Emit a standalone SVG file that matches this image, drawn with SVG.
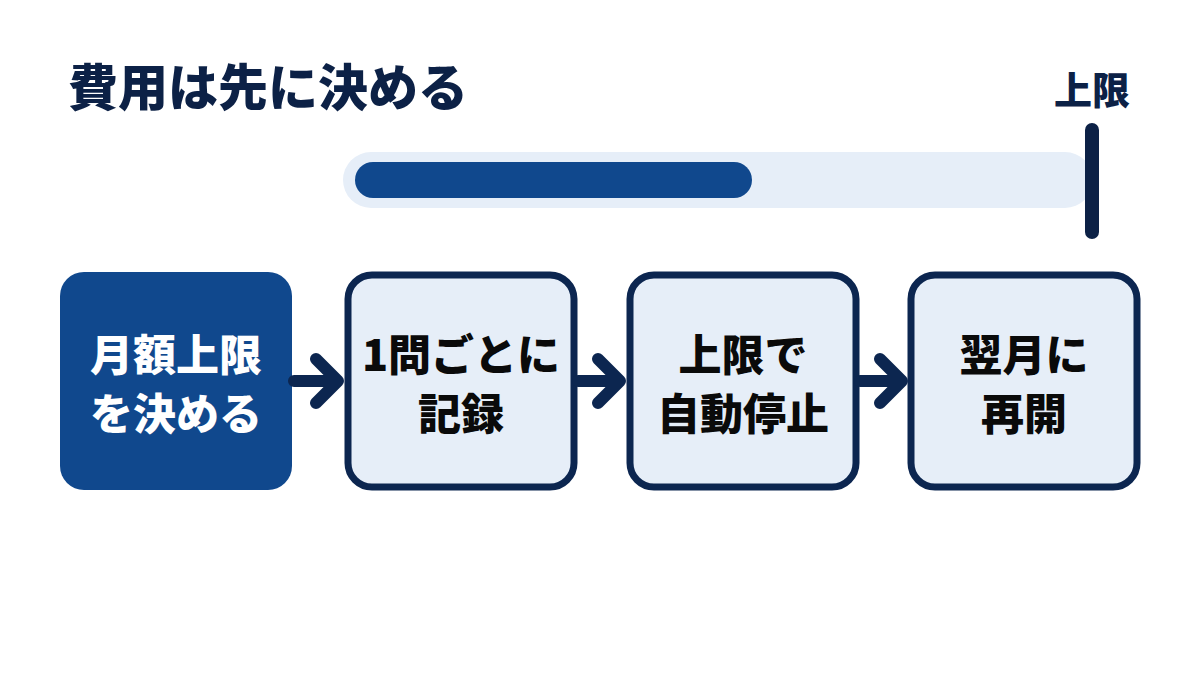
<svg xmlns="http://www.w3.org/2000/svg" width="1200" height="675" viewBox="0 0 1200 675">
<style>
.t{font-family:"Noto Sans CJK JP","Noto Sans",sans-serif;font-weight:900;text-anchor:middle}
.box{fill:#e6eef8;stroke:#0c2650;stroke-width:7}
.bt{font-size:43px;fill:#0a0a0a}
.con{fill:none;stroke:#0c2650;stroke-width:12;stroke-linecap:round;stroke-linejoin:round}
</style>
<rect width="1200" height="675" fill="#ffffff"/>
<g id="title"><text class="t" x="68" y="106" style="text-anchor:start;font-size:50px;fill:#0c2146">費用は先に決める</text></g>
<g id="gauge">
<rect x="343" y="152" width="750" height="56" rx="28" fill="#e6eef8"/>
<rect x="355" y="162" width="397" height="36" rx="18" fill="#10488d"/>
<line x1="1092" y1="130" x2="1092" y2="232" stroke="#0c2146" stroke-width="14" stroke-linecap="round"/>
<text class="t" x="1092" y="104" style="font-size:38px;fill:#0c2146">上限</text>
</g>
<g id="n1">
<rect x="60" y="272" width="232" height="218" rx="24" fill="#10488d"/>
<text class="t" x="176" y="371" style="font-size:43px;fill:#ffffff">月額上限</text>
<text class="t" x="176" y="430" style="font-size:43px;fill:#ffffff">を決める</text>
</g>
<g id="n2">
<rect class="box" x="348" y="275" width="226" height="212" rx="24"/>
<text class="t bt" x="461" y="371">1問ごとに</text>
<text class="t bt" x="461" y="430">記録</text>
</g>
<g id="n3">
<rect class="box" x="630" y="275" width="226" height="212" rx="24"/>
<text class="t bt" x="743" y="371">上限で</text>
<text class="t bt" x="743" y="430">自動停止</text>
</g>
<g id="n4">
<rect class="box" x="911" y="275" width="226" height="212" rx="24"/>
<text class="t bt" x="1024" y="371">翌月に</text>
<text class="t bt" x="1024" y="430">再開</text>
</g>
<g id="connectors">
<path class="con" d="M294 381 H336 M316 359 L338 381 L316 403"/>
<path class="con" d="M578 381 H618 M598 359 L620 381 L598 403"/>
<path class="con" d="M860 381 H900 M880 359 L902 381 L880 403"/>
</g>
</svg>
